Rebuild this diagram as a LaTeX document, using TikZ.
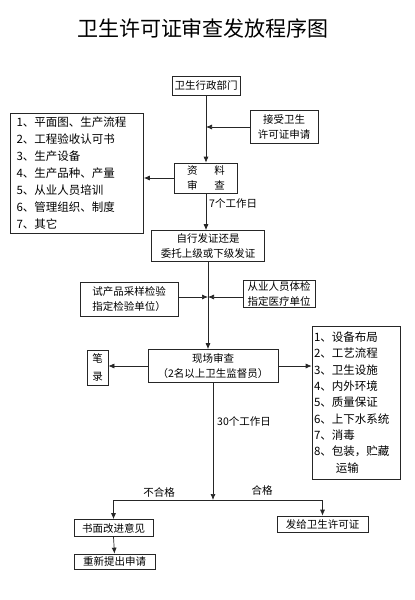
\documentclass[tikz,border=0pt]{standalone}
\usepackage{fontspec}
\setmainfont{Noto Sans CJK SC}
\usetikzlibrary{arrows.meta}
\tikzset{
  box/.style={draw=black!85, line width=0.7pt, inner sep=1pt, align=center,
    font=\fontsize{10.5}{15.5}\selectfont},
  listbox/.style={draw=black!85, line width=0.7pt, align=left,
    font=\fontsize{11.5}{17}\selectfont},
  conn/.style={line width=0.7pt, draw=black!85},
  arr/.style={conn, -{Latex[length=6pt,width=5pt]}},
  lbl/.style={font=\fontsize{10.5}{12}\selectfont, inner sep=0pt},
}
\begin{document}
\begin{tikzpicture}[x=1pt,y=-1pt]
\useasboundingbox (0,0) rectangle (415,600);
\fill[white] (0,0) rectangle (415,600);

\node[font=\fontsize{21}{24}\selectfont, inner sep=0pt] (title) at (203,28) {卫生许可证审查发放程序图};

\node[box, minimum width=68pt, minimum height=19pt] (t1) at (206,86) {卫生行政部门};
\node[box, minimum width=68pt, minimum height=33pt] (acc) at (284,127) {接受卫生\\许可证申请};
\node[box, minimum width=63pt, minimum height=30pt] (zl) at (206,178) {资\hspace{1.6em}料\\审\hspace{1.6em}查};
\node[listbox, text width=121pt, inner xsep=6pt, minimum height=120pt] (list1) at (77,173)
  {1、平面图、生产流程\\2、工程验收认可书\\3、生产设备\\4、生产品种、产量\\5、从业人员培训\\6、管理组织、制度\\7、其它};
\node[box, minimum width=113pt, minimum height=31pt] (zx) at (208,246) {自行发证还是\\委托上级或下级发证};
\node[box, minimum width=98pt, minimum height=34pt] (sc) at (129,299) {试产品采样检验\\指定检验单位）};
\node[box, minimum width=72pt, minimum height=27pt] (cy) at (279,294) {从业人员体检\\指定医疗单位};
\node[box, minimum width=130pt, minimum height=33pt] (xc) at (213,366) {现场审查\\（2名以上卫生监督员）};
\node[box, minimum width=21pt, minimum height=35pt, font=\fontsize{10.5}{18}\selectfont] (bl) at (97.5,367.5) {笔\\录};
\node[listbox, text width=84pt, inner xsep=2pt, minimum height=153pt, font=\fontsize{11.5}{16.3}\selectfont] (list2) at (356,402.5)
  {1、设备布局\\2、工艺流程\\3、卫生设施\\4、内外环境\\5、质量保证\\6、上下水系统\\7、消毒\\8、包装，贮藏\\\hspace{1.9em}运输};
\node[box, minimum width=79pt, minimum height=17pt] (sm) at (113.5,528) {书面改进意见};
\node[box, minimum width=81pt, minimum height=15pt] (cx) at (114.5,561.5) {重新提出申请};
\node[box, minimum width=91pt, minimum height=16pt] (fg) at (322.5,524) {发给卫生许可证};

\coordinate (j1) at (206,127);
\coordinate (j2) at (208,297);
\coordinate (br) at (213,500);
\coordinate (bl1) at (113.5,500);
\coordinate (br1) at (322.5,500);

\draw[arr] (t1.south) -- (zl.north);
\draw[arr] (acc.west) -- (j1);
\draw[arr] (zl.west) -- (zl.west -| list1.east);
\draw[arr] (zl.south) -- (zl.south |- zx.north);
\draw[arr] (zx.south) -- (zx.south |- xc.north);
\draw[arr] (sc.east |- j2) -- (j2);
\draw[arr] (cy.west |- j2) -- (j2);
\draw[arr] (xc.west) -- (bl.east |- xc.west);
\draw[arr] (xc.east) -- (xc.east -| list2.west);
\draw[arr] (xc.south) -- (br);
\draw[conn] (bl1) -- (br1);
\draw[arr] (bl1) -- (sm.north);
\draw[arr] (br1) -- (fg.north);
\draw[arr] (sm.south) -- (cx.north);

\node[lbl, anchor=west] (d7) at (209,203) {7个工作日};
\node[lbl, anchor=west] (d30) at (217,421) {30个工作日};
\node[lbl] (bhg) at (159,492) {不合格};
\node[lbl] (hg) at (262,490) {合格};
\end{tikzpicture}
\end{document}
